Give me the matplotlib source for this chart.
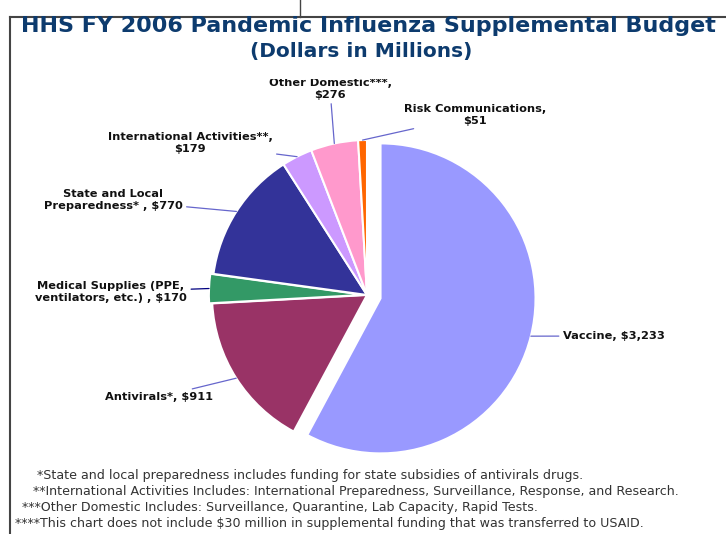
import numpy as np
import matplotlib
matplotlib.use('Agg')
import matplotlib.pyplot as plt
from matplotlib.lines import Line2D
from matplotlib.patches import Rectangle

# 数据（百万美元）
categories = ['Vaccine', 'Antivirals*', 'Medical Supplies', 'State and Local',
              'International Activities', 'Other Domestic', 'Risk Communications']
values = [3233, 911, 170, 770, 179, 276, 51]
labels = ['Vaccine, $3,233',
          'Antivirals*, $911',
          'Medical Supplies (PPE,\nventilators, etc.) , $170',
          'State and Local\nPreparedness* , $770',
          'International Activities**,\n$179',
          'Other Domestic***,\n$276',
          'Risk Communications,\n$51']
colors = ['#9999FF', '#993366', '#339966', '#333399', '#CC99FF', '#FF99CC', '#FF6600']
explode = [0.09, 0.0, 0.02, 0.0, 0.0, 0.0, 0.0]

footnotes = [
    '*State and local preparedness includes funding for state subsidies of antivirals drugs.',
    '**International Activities Includes: International Preparedness, Surveillance, Response, and Research.',
    '***Other Domestic Includes: Surveillance, Quarantine, Lab Capacity, Rapid Tests.',
    '****This chart does not include $30 million in supplemental funding that was transferred to USAID.',
]

W, H = 726, 534
cx, cy, R = 367, 295, 155  # 饼图中心和半径（像素）

fig = plt.figure(figsize=(W / 100, H / 100), dpi=100)
ax = fig.add_axes([0, 0, 1, 1])

wedges, _ = ax.pie(values, colors=colors, startangle=90, counterclock=False,
                   explode=explode,
                   wedgeprops=dict(edgecolor='white', linewidth=1.5))
ax.set_aspect('auto')
ax.set_xlim(-cx / R, (W - cx) / R)
ax.set_ylim(-(H - cy) / R, cy / R)
ax.axis('off')

# 标签位置（像素 -> 数据坐标）
text_px = [(563, 336, 'left'), (213, 397, 'right'), (111, 292, 'center'),
           (113, 200, 'center'), (190, 143, 'center'), (330, 89, 'center'),
           (475, 115, 'center')]
line_colors = ['#6666cc', '#6666cc', '#000080', '#6666cc', '#6666cc', '#6666cc', '#6666cc']

for i, w in enumerate(wedges):
    mid = np.deg2rad((w.theta1 + w.theta2) / 2)
    ox, oy = w.center
    xy = (ox + np.cos(mid), oy + np.sin(mid))
    px, py, ha = text_px[i]
    ax.annotate(labels[i], xy=xy, xytext=((px - cx) / R, (cy - py) / R),
                ha=ha, va='center', multialignment='center', linespacing=1.15,
                fontsize=8.2, fontweight='bold', color='#111111',
                arrowprops=dict(arrowstyle='-', color=line_colors[i], lw=0.9,
                                shrinkA=1, shrinkB=0))

# "Other Domestic" 标签上半部分被遮挡
fig.add_artist(Rectangle((240 / W, 1 - 79 / H), 190 / W, 16 / H,
                         transform=fig.transFigure, facecolor='white',
                         edgecolor='none', zorder=5))

# 标题
fig.text(368 / W, 1 - 26 / H, 'HHS FY 2006 Pandemic Influenza Supplemental Budget',
         ha='center', va='center', fontsize=16, fontweight='bold', color='#0d3b6e',
         zorder=6)
fig.text(361 / W, 1 - 51 / H, '(Dollars in Millions)',
         ha='center', va='center', fontsize=14.5, fontweight='bold', color='#0d3b6e',
         zorder=6)

# 脚注
foot_pos = [(37, 475), (33, 492), (22, 508), (15, 524)]
for (fx, fy), txt in zip(foot_pos, footnotes):
    fig.text(fx / W, 1 - fy / H, txt, ha='left', va='center',
             fontsize=9.1, color='#333333')

# 边框
fig.add_artist(Line2D([10 / W, 10 / W], [0, 1 - 17 / H], color='#444444', lw=1.5,
                      transform=fig.transFigure))
fig.add_artist(Line2D([10 / W, 1], [1 - 17 / H, 1 - 17 / H], color='#444444', lw=1.5,
                      transform=fig.transFigure))
fig.add_artist(Line2D([300 / W, 300 / W], [1 - 17 / H, 1], color='#444444', lw=1,
                      transform=fig.transFigure))

fig.savefig('out.png', dpi=100, facecolor='white')
